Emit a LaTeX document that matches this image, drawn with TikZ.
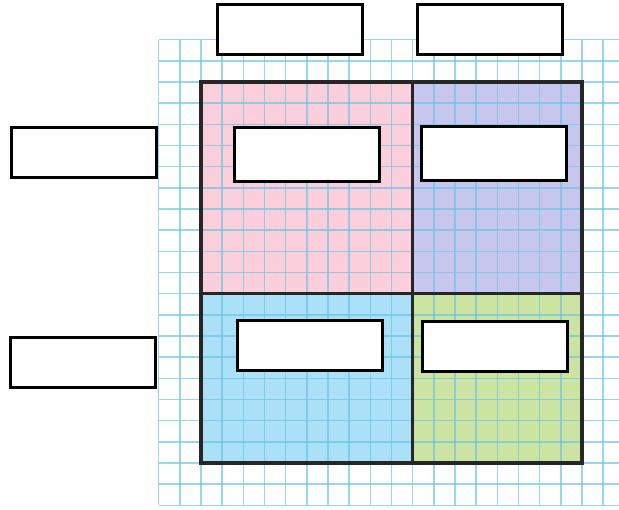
\documentclass[tikz,border=0pt]{standalone}
\usepackage{tikz}
\definecolor{gridblue}{RGB}{110,196,224}
\definecolor{pinkfill}{RGB}{250,206,218}
\definecolor{lilacfill}{RGB}{198,198,238}
\definecolor{skyfill}{RGB}{170,224,248}
\definecolor{leaffill}{RGB}{204,228,162}

\begin{document}
\begin{tikzpicture}[x=1pt, y=-1pt,
  gridline/.style={draw=gridblue, line width=1.4pt, opacity=0.7},
  frame/.style={draw=black!85, line width=3.4pt},
  blank/.style={draw=black, line width=3pt, fill=white, inner sep=0pt,
    minimum width=145pt, minimum height=50pt}]
  \useasboundingbox (0,0) rectangle (619,510);
  \def\cell{21.1667}
  % coloured quarters
  \fill[pinkfill] (201,82) rectangle (412.67,293.67);
  \fill[lilacfill] (412.67,82) rectangle (582,293.67);
  \fill[skyfill] (201,293.67) rectangle (412.67,463);
  \fill[leaffill] (412.67,293.67) rectangle (582,463);
  % squared paper
  \foreach \k in {0,...,22}
    \draw[gridline] (158.67,39.67+\k*\cell) -- (619,39.67+\k*\cell);
  \foreach \k in {0,...,21}
    \draw[gridline] (158.67+\k*\cell,39.67) -- (158.67+\k*\cell,505.33);
  % outline of the square
  \draw[frame] (201,82) rectangle (582,463);
  \draw[frame] (412.67,82) -- (412.67,463);
  \draw[frame] (201,293.67) -- (582,293.67);
  % empty boxes
  \node[blank] (colA) at (290,29.5) {};
  \node[blank] (colB) at (490,30) {};
  \node[blank] (rowA) at (84,152.5) {};
  \node[blank] (rowB) at (82.5,362.5) {};
  \node[blank, minimum height=54pt] (cellAA) at (307,154.5) {};
  \node[blank, minimum height=54pt] (cellAB) at (494,154) {};
  \node[blank] (cellBA) at (310,345.5) {};
  \node[blank] (cellBB) at (495,347) {};
\end{tikzpicture}
\end{document}
